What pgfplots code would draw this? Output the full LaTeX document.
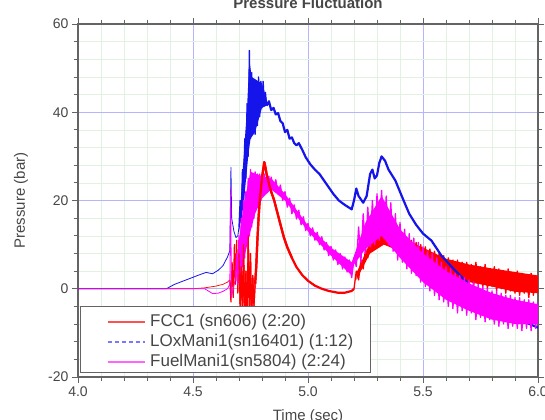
\documentclass[border=0pt]{standalone}
\usepackage{fontspec}
\setmainfont{Liberation Sans}
\usepackage{pgfplots}
\pgfplotsset{compat=1.18}
\definecolor{majgrid}{RGB}{180,180,255}
\definecolor{mingrid}{RGB}{226,242,226}
\definecolor{frame}{RGB}{100,100,100}
\definecolor{txt}{RGB}{70,70,70}
\definecolor{lred}{RGB}{255,0,0}
\definecolor{lblue}{RGB}{20,20,235}
\definecolor{lmag}{RGB}{255,0,255}
\definecolor{legred}{RGB}{255,80,80}
\definecolor{legblue}{RGB}{120,120,255}
\definecolor{legmag}{RGB}{255,100,255}
\begin{document}
\begin{tikzpicture}
\begin{axis}[
  scale only axis, width=460pt, height=353pt,
  xmin=4, xmax=6, ymin=-20, ymax=60,
  xtick={4,4.5,5,5.5,6}, ytick={-20,0,20,40,60},
  minor x tick num=4, minor y tick num=4,
  xticklabel style={/pgf/number format/fixed,/pgf/number format/fixed zerofill,/pgf/number format/precision=1},
  /pgf/number format/assume math mode=true,
  tick label style={font=\fontsize{14}{16}\selectfont, text=txt},
  tick align=outside, major tick length=6pt, minor tick length=4pt,
  every tick/.style={frame, line width=0.8pt},
  axis line style={frame, line width=1.2pt},
  grid=both,
  major grid style={majgrid, line width=0.6pt},
  minor grid style={mingrid, line width=0.5pt},
  every axis plot/.append style={line join=round},
  title={Pressure Fluctuation},
  title style={at={(axis description cs:0.5,1)}, anchor=base, yshift=9.5pt, font=\fontsize{15}{18}\selectfont\bfseries, text=txt},
  xlabel={Time (sec)},
  xlabel style={at={(axis description cs:0.5,0)}, anchor=base, yshift=-44pt, font=\fontsize{15}{18}\selectfont, text=txt},
  ylabel={Pressure (bar)},
  every axis y label/.style={at={(axis description cs:0,0.5)}, xshift=-53pt, rotate=90, anchor=base, font=\fontsize{15}{18}\selectfont, text=txt},
]
\coordinate (ll) at (rel axis cs:0,0);
\coordinate (ur) at (rel axis cs:1,1);
% ---------- FCC1 (red) ----------
\addplot[lred, line width=0.7pt, forget plot] coordinates {
(4.00,0) (4.50,0) (4.55,0.2) (4.60,0.6) (4.63,1.0) (4.65,1.5) (4.66,2)};
\addplot[lred, line width=1.2pt, forget plot] coordinates {
(4.660,2) (4.665,-3) (4.670,6) (4.675,-2) (4.680,10) (4.685,1) (4.690,11) (4.695,-1)
(4.700,8) (4.705,-4) (4.710,5) (4.715,-6) (4.720,10) (4.725,-8) (4.730,4) (4.735,-8)
(4.740,12) (4.745,-6) (4.750,8) (4.755,-8) (4.760,3) (4.765,-4) (4.770,1)};
\addplot[lred, line width=2.2pt, forget plot] coordinates {
(4.770,1) (4.775,5) (4.780,11) (4.785,16) (4.790,20) (4.795,22.5) (4.800,25) (4.805,27)
(4.810,28.7) (4.815,27.5) (4.820,26) (4.830,23.8) (4.840,22) (4.853,20) (4.868,17)
(4.883,14) (4.896,11.5) (4.910,9.4) (4.930,7) (4.950,4.9) (4.975,3.1) (5.000,1.8)
(5.030,0.7) (5.060,0) (5.090,-0.5) (5.130,-0.9) (5.160,-0.9) (5.190,-0.5) (5.200,0)};
\addplot[fill=lred, draw=none, forget plot] coordinates {
(5.21,3.5) (5.27,10.5) (5.33,13.5) (5.40,11.8) (5.50,9.3) (5.60,6.8) (5.70,5.5) (5.80,4.6)
(5.90,3.8) (6.00,3) (6.00,-1) (5.90,-0.7) (5.80,0.5) (5.70,1.5) (5.60,3) (5.50,6)
(5.40,8.5) (5.33,10) (5.27,8) (5.21,2)} -- cycle;
\addplot[lred, line width=1.3pt, forget plot] coordinates {
(5.20,0) (5.21,4) (5.22,2) (5.23,6.5) (5.24,4.5) (5.25,9) (5.26,7) (5.27,11) (5.28,8.5)
(5.29,12) (5.30,9.5) (5.31,13.5) (5.32,10.5) (5.33,14) (5.34,10) (5.35,13.5) (5.36,9.5)
(5.37,13) (5.38,9) (5.39,12.5) (5.40,8.5) (5.41,12) (5.42,8) (5.43,11.5) (5.44,7.5)
(5.45,11) (5.46,7) (5.47,10.5) (5.48,6.5) (5.49,10) (5.50,6) (5.51,9.5) (5.52,5.5)
(5.53,9) (5.54,5) (5.55,8.5) (5.56,4.5) (5.57,8) (5.58,3.5) (5.59,7.5) (5.60,3)
(5.61,7) (5.62,2.5) (5.63,6.5) (5.64,1.5) (5.65,6.5) (5.66,2) (5.67,6) (5.68,1)
(5.69,6) (5.70,1.5) (5.71,5.5) (5.72,0.5) (5.73,6) (5.74,1) (5.75,5) (5.76,0.5)
(5.77,5.5) (5.78,0) (5.79,4.5) (5.80,0.5) (5.81,5) (5.82,-0.5) (5.83,4.5) (5.84,0)
(5.85,4) (5.86,-1) (5.87,4.5) (5.88,-0.5) (5.89,3.5) (5.90,-1) (5.91,4) (5.92,-1.5)
(5.93,3.5) (5.94,-1) (5.95,3) (5.96,-2) (5.97,3.5) (5.98,-1.5) (5.99,3) (6.00,-1)};
% ---------- LOxMani1 (blue) ----------
\addplot[lblue, line width=0.8pt, forget plot] coordinates {
(4.00,0) (4.384,0) (4.42,1) (4.46,1.8) (4.50,2.6) (4.53,3.2) (4.557,3.7) (4.585,3.4)
(4.61,4.2) (4.63,5.2) (4.65,7.2) (4.66,8.6) (4.665,27.5) (4.668,16) (4.678,13)
(4.687,11.6) (4.695,12) (4.70,14)};
\addplot[fill=lblue, draw=none, forget plot] coordinates {
(4.700,14) (4.715,26) (4.735,41) (4.745,52) (4.755,48) (4.800,46.5) (4.820,43)
(4.820,41.5) (4.800,41) (4.770,35.5) (4.750,34) (4.740,30) (4.720,19) (4.700,13)} -- cycle;
\addplot[lblue, line width=1.3pt, forget plot] coordinates {
(4.700,14) (4.705,20) (4.710,15) (4.715,27) (4.720,19) (4.725,34) (4.730,25) (4.735,42)
(4.740,30) (4.745,54) (4.750,34) (4.755,49) (4.760,36) (4.765,47) (4.770,35) (4.775,46)
(4.780,37) (4.785,48) (4.790,39) (4.795,47) (4.800,41) (4.805,47) (4.810,42) (4.815,44.5)
(4.820,41.5)};
\addplot[lblue, line width=2.2pt, forget plot] coordinates {
(4.820,41.5) (4.830,42.5) (4.840,40.5) (4.850,41) (4.860,39.5) (4.870,39.8) (4.880,38)
(4.890,37.5) (4.900,35.5) (4.910,36) (4.920,34) (4.930,34.3) (4.940,33) (4.950,32.5)
(4.960,33) (4.975,31.5) (4.990,29.8) (5.010,28.2) (5.030,27) (5.050,26) (5.070,24.5)
(5.090,23) (5.110,21.5) (5.134,20) (5.160,19) (5.190,18) (5.200,20) (5.210,22.7)
(5.220,21) (5.240,19.5) (5.255,21) (5.270,26) (5.280,27) (5.290,25) (5.300,25.7)
(5.310,28.5) (5.320,30) (5.335,29) (5.350,27) (5.380,24.5) (5.410,20.7) (5.440,17)
(5.470,14.5) (5.500,12.5) (5.537,10.9) (5.580,7.5) (5.640,4.1) (5.700,1) (5.760,-1.5)
(5.820,-4) (5.880,-6) (5.940,-7.5) (6.000,-8.8)};
% ---------- FuelMani1 (magenta) ----------
\addplot[lmag, line width=0.8pt, forget plot] coordinates {
(4.00,0) (4.55,0) (4.57,-0.6) (4.585,-1.1) (4.61,-1.0) (4.63,-0.6) (4.65,0) (4.66,1)
(4.664,23) (4.667,-2) (4.675,0) (4.685,2.5)};
\addplot[fill=lmag, draw=none, forget plot] coordinates {
(4.700,11) (4.720,19) (4.740,24) (4.750,26.5) (4.800,25.5) (4.840,25) (4.900,21.5)
(5.000,14.3) (5.100,9.3) (5.190,6) (5.250,15) (5.320,21) (5.400,13.5) (5.500,8)
(5.600,4) (5.700,1.2) (5.800,-1) (5.900,-2.5) (6.000,-3.5)
(6.000,-8) (5.900,-8) (5.800,-7) (5.700,-5) (5.600,-2.5) (5.500,1.5) (5.400,7)
(5.320,12) (5.250,9) (5.200,5.5) (5.190,3) (5.100,7.5) (5.000,13) (4.900,20)
(4.840,22.5) (4.800,20.5) (4.770,17) (4.750,13) (4.720,6.5) (4.700,2)} -- cycle;
\addplot[lmag, line width=1.3pt, forget plot] coordinates {
(4.685,2.5) (4.690,8) (4.695,1) (4.700,12) (4.705,3) (4.710,16) (4.715,5) (4.720,20)
(4.725,7) (4.730,22) (4.735,10) (4.740,25) (4.745,12) (4.750,27) (4.755,14) (4.760,26)
(4.765,16) (4.770,26.5) (4.775,18) (4.780,26) (4.785,19) (4.790,26) (4.795,20) (4.800,26)
(4.805,21.5) (4.810,26) (4.815,22.5) (4.820,25.8) (4.825,22.5) (4.830,25.5) (4.835,22.3)
(4.840,25.3) (4.85,22.5) (4.86,24.7) (4.87,21.5) (4.88,23.5) (4.89,20) (4.90,22)
(4.91,18.5) (4.92,20.5) (4.93,17) (4.94,19) (4.95,15.8) (4.96,17.8) (4.97,14.5)
(4.98,16.3) (4.99,13.2) (5.00,14.8) (5.01,12) (5.02,13.8) (5.03,11) (5.04,12.8)
(5.05,10) (5.06,11.8) (5.07,8.8) (5.08,10.5) (5.09,7.5) (5.10,9.6) (5.11,6.5) (5.12,8.8)
(5.13,5.5) (5.14,8) (5.15,4.5) (5.16,7.2) (5.17,3.8) (5.18,6.5) (5.19,2.5)
(5.20,7) (5.21,5) (5.22,14) (5.23,6) (5.24,17) (5.25,8) (5.26,18.5) (5.27,9.5) (5.28,20)
(5.29,10) (5.30,21.5) (5.31,11) (5.32,22.3) (5.33,11.5) (5.34,21) (5.35,10) (5.36,19.5)
(5.37,8.5) (5.38,17) (5.39,6.5) (5.40,15) (5.41,6) (5.42,13.5) (5.43,4.5) (5.44,12.5)
(5.45,3.5) (5.46,11.5) (5.47,3) (5.48,10.5) (5.49,1.5) (5.50,9.5) (5.51,0.5) (5.52,8.5)
(5.53,-0.5) (5.54,8) (5.55,-1.5) (5.56,7) (5.57,-2.5) (5.58,6) (5.59,-3) (5.60,5)
(5.61,-4) (5.62,4.5) (5.63,-4.5) (5.64,3.5) (5.65,-5.5) (5.66,3) (5.67,-5) (5.68,2.5)
(5.69,-6) (5.70,2) (5.71,-5.5) (5.72,1.5) (5.73,-7) (5.74,1) (5.75,-6.5) (5.76,0.5)
(5.77,-7.5) (5.78,0) (5.79,-7) (5.80,-0.5) (5.81,-8) (5.82,-0.5) (5.83,-8.5) (5.84,-1)
(5.85,-8) (5.86,-1.5) (5.87,-9) (5.88,-1.5) (5.89,-8.5) (5.90,-2) (5.91,-9) (5.92,-2)
(5.93,-9.5) (5.94,-2.5) (5.95,-9) (5.96,-2.5) (5.97,-9.5) (5.98,-3) (5.99,-9) (6.00,-3)};
% red on top where it crosses the magenta band
\addplot[lred, line width=1.2pt, forget plot] coordinates {
(4.700,8) (4.705,-4) (4.710,5) (4.715,-6) (4.720,10) (4.725,-8) (4.730,4) (4.735,-8)
(4.740,12) (4.745,-6) (4.750,8) (4.755,-8) (4.760,3) (4.765,-4) (4.770,1)};
\addplot[lred, line width=2.2pt, forget plot] coordinates {
(4.770,1) (4.775,5) (4.780,11) (4.785,16) (4.790,20) (4.795,22.5) (4.800,25) (4.805,27)
(4.810,28.7) (4.815,27.5) (4.820,26) (4.830,23.8) (4.840,22) (4.853,20) (4.868,17)
(4.883,14) (4.896,11.5) (4.910,9.4) (4.930,7)};
% ---------- legend box ----------
\draw[frame, line width=0.8pt, fill=white] (axis description cs:0.0043,0.0142) rectangle (axis description cs:0.635,0.201);
\draw[legred, line width=1.3pt] (axis description cs:0.0652,0.1558) -- (axis description cs:0.1457,0.1558);
\draw[legblue, line width=1.3pt, dash pattern=on 4pt off 3pt] (axis description cs:0.0652,0.0992) -- (axis description cs:0.1457,0.0992);
\draw[legmag, line width=1.3pt] (axis description cs:0.0652,0.0425) -- (axis description cs:0.1457,0.0425);
\node[anchor=west, inner sep=0pt, text=txt, font=\fontsize{17}{19}\selectfont] at (axis description cs:0.1565,0.1558) {FCC1 (sn606) (2:20)};
\node[anchor=west, inner sep=0pt, text=txt, font=\fontsize{17}{19}\selectfont] at (axis description cs:0.1565,0.0992) {LOxMani1(sn16401) (1:12)};
\node[anchor=west, inner sep=0pt, text=txt, font=\fontsize{17}{19}\selectfont] at (axis description cs:0.1565,0.0425) {FuelMani1(sn5804) (2:24)};
\end{axis}
\pgfresetboundingbox
\useasboundingbox ([xshift=-78pt,yshift=-43pt]ll) rectangle ([xshift=7pt,yshift=24pt]ur);
\end{tikzpicture}
\end{document}
